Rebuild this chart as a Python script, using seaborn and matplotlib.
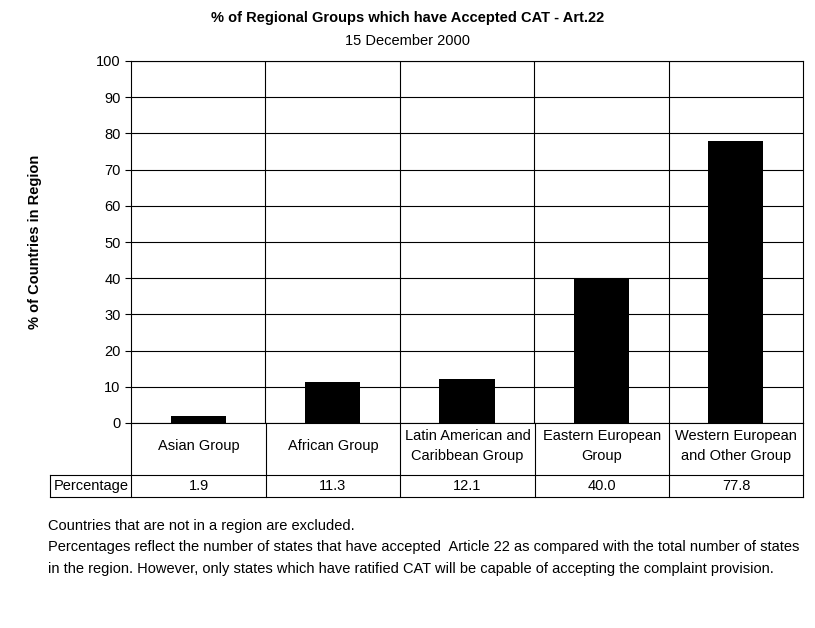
import matplotlib
matplotlib.use("Agg")
import matplotlib.pyplot as plt
import seaborn as sns
import pandas as pd
from matplotlib.lines import Line2D

groups = ["Asian Group", "African Group", "Latin American and\nCaribbean Group",
          "Eastern European\nGroup", "Western European\nand Other Group"]
percent = [1.9, 11.3, 12.1, 40.0, 77.8]

plt.rcParams["font.family"] = "Liberation Sans"
FS = 10.5
W, H = 815, 628
fig = plt.figure(figsize=(W / 100, H / 100), dpi=100)
L, R, T, B = 131, 803, 61, 423
ax = fig.add_axes([L / W, 1 - B / H, (R - L) / W, (B - T) / H])

df = pd.DataFrame({"group": groups, "pct": percent})
sns.barplot(data=df, x="group", y="pct", color="black", width=0.41,
            saturation=1, ax=ax, zorder=3)
ax.set_xlim(-0.5, 4.5)
ax.set_ylim(0, 100)
ax.set_yticks(range(0, 101, 10))
ax.yaxis.grid(True, color="black", lw=0.8)
for x in [0.5, 1.5, 2.5, 3.5]:
    ax.axvline(x, color="black", lw=0.8)
for s in ax.spines.values():
    s.set_linewidth(0.8)
ax.set_xticks([])
ax.set_xlabel("")
ax.set_ylabel("")
ax.tick_params(axis="y", labelsize=FS, length=4)

def fx(px): return px / W
def fy(py): return 1 - py / H

# category labels and data table
bounds = [266, 400, 535, 669]
for b in bounds + [131, 803]:
    fig.add_artist(Line2D([fx(b), fx(b)], [fy(423), fy(497)], color="black", lw=0.8))
fig.add_artist(Line2D([fx(50), fx(50)], [fy(475), fy(497)], color="black", lw=0.8))
fig.add_artist(Line2D([fx(50), fx(803)], [fy(475), fy(475)], color="black", lw=0.8))
fig.add_artist(Line2D([fx(50), fx(803)], [fy(497), fy(497)], color="black", lw=0.8))
edges = [131] + bounds + [803]
for i, (g, p) in enumerate(zip(groups, percent)):
    cx = (edges[i] + edges[i + 1]) / 2
    fig.text(fx(cx), fy(446), g, ha="center", va="center", fontsize=FS, linespacing=1.55)
    fig.text(fx(cx), fy(486), f"{p:.1f}", ha="center", va="center", fontsize=FS)
fig.text(fx(91), fy(486), "Percentage", ha="center", va="center", fontsize=FS)

fig.text(fx(35), fy(242), "% of Countries in Region", rotation=90, ha="center",
         va="center", fontsize=FS, fontweight="bold")
fig.text(0.5, fy(18), "% of Regional Groups which have Accepted CAT - Art.22",
         ha="center", va="center", fontsize=FS, fontweight="bold")
fig.text(0.5, fy(41), "15 December 2000", ha="center", va="center", fontsize=FS)

notes = ["Countries that are not in a region are excluded.",
         "Percentages reflect the number of states that have accepted  Article 22 as compared with the total number of states",
         "in the region. However, only states which have ratified CAT will be capable of accepting the complaint provision."]
for i, n in enumerate(notes):
    fig.text(fx(48), fy(526 + 21.5 * i), n, ha="left", va="center", fontsize=FS)

fig.savefig("out.png", dpi=100)
